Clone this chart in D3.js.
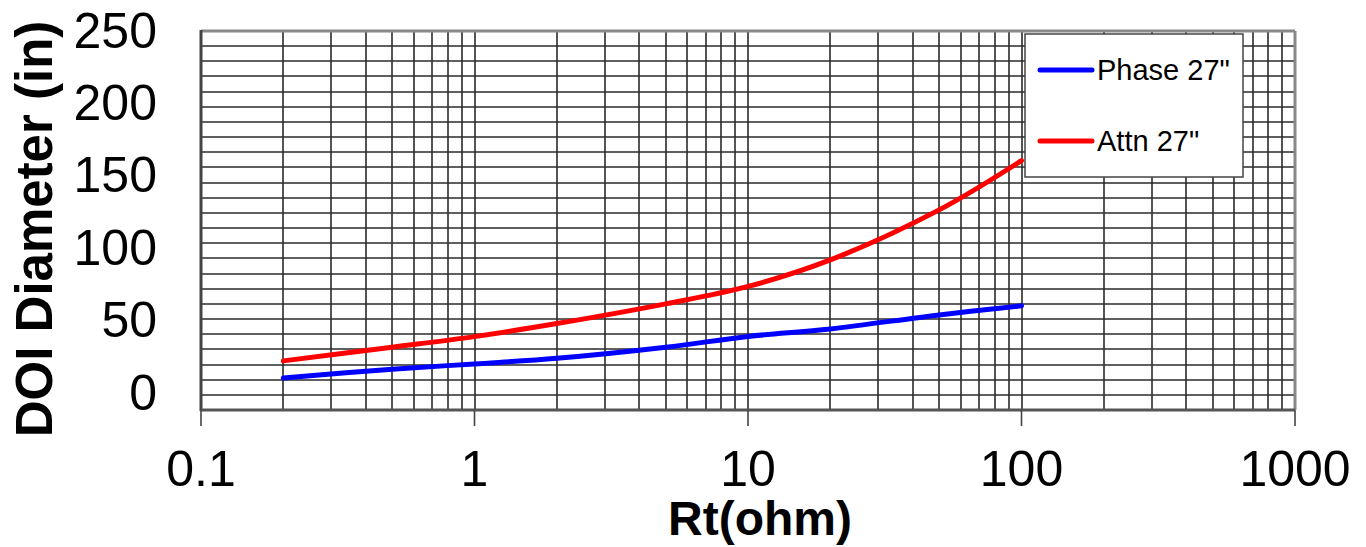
<!DOCTYPE html>
<html><head><meta charset="utf-8">
<script src="https://cdn.jsdelivr.net/npm/d3@7"></script>
<style>body{margin:0;background:#fff}svg{display:block}text{font-family:"Liberation Sans",Arial,sans-serif}</style>
</head><body>
<svg id="c" width="1366" height="547"></svg>
<script>
const rtValues = [0.2, 0.5, 1, 2, 5, 10, 20, 50, 100];
const phase27 = [21.1, 26.9, 30.4, 34.1, 41.4, 48.5, 53.5, 62.7, 68.7];
const attn27 = [32.4, 41.4, 48.4, 57, 70, 81.5, 99, 132, 164.5];
const seriesNames = ['Phase 27"', 'Attn 27"'];
const seriesColors = ["#0000ff", "#ff0000"];
const xTickLabels = [0.1, 1, 10, 100, 1000];
const yTickLabels = [0, 50, 100, 150, 200, 250];

const svg = d3.select("#c");
const L = 201, R = 1295, T = 31, B = 410;
const x = d3.scaleLog().domain([0.1, 1000]).range([L, R]);
const y = d3.scaleLinear().domain([0, 250]).range([B, T]);
const yLab = d3.scaleLinear().domain([0, 250]).range([391.5, 29.5]);

// grid
const vGrid = [];
for (let e = -1; e < 3; e++) for (let k = 1; k <= 9; k++) vGrid.push(k * Math.pow(10, e));
vGrid.push(1000);
const hGrid = d3.range(0, 251, 10);
const g = svg.append("g");
g.selectAll(".vg").data(vGrid).join("line")
  .attr("x1", d => Math.round(x(d))).attr("x2", d => Math.round(x(d)))
  .attr("y1", T).attr("y2", B).attr("stroke", "#2a2a2a").attr("stroke-width", 1.6);
g.selectAll(".hg").data(hGrid).join("line")
  .attr("x1", L).attr("x2", R)
  .attr("y1", d => Math.round(y(d))).attr("y2", d => Math.round(y(d)))
  .attr("stroke", "#2a2a2a").attr("stroke-width", 1.6);

// frame
svg.append("line").attr("x1", L).attr("x2", R).attr("y1", T).attr("y2", T).attr("stroke", "#888").attr("stroke-width", 3);
svg.append("line").attr("x1", R).attr("x2", R).attr("y1", T).attr("y2", B).attr("stroke", "#888").attr("stroke-width", 3);
svg.append("line").attr("x1", L).attr("x2", L).attr("y1", T - 1).attr("y2", B + 1).attr("stroke", "#444").attr("stroke-width", 3);
svg.append("line").attr("x1", L).attr("x2", R).attr("y1", B).attr("y2", B).attr("stroke", "#555").attr("stroke-width", 3);

// x axis ticks & labels
svg.selectAll(".xt").data(xTickLabels).join("line")
  .attr("x1", d => x(d)).attr("x2", d => x(d)).attr("y1", B).attr("y2", B + 16)
  .attr("stroke", "#444").attr("stroke-width", 1.6);
svg.selectAll(".xl").data(xTickLabels).join("text")
  .attr("x", d => x(d)).attr("y", 486).attr("text-anchor", "middle")
  .attr("font-size", 50).attr("fill", "#000").text(d => String(d));

// y labels
svg.selectAll(".yl").data(yTickLabels).join("text")
  .attr("x", 157).attr("y", d => yLab(d) + 18).attr("text-anchor", "end")
  .attr("font-size", 50).attr("fill", "#000").text(d => String(d));

// titles
svg.append("text").attr("transform", "translate(52,229) rotate(-90)")
  .attr("text-anchor", "middle").attr("font-size", 51).attr("font-weight", "bold").text("DOI Diameter (in)");
svg.append("text").attr("x", 760).attr("y", 535).attr("text-anchor", "middle")
  .attr("font-size", 48).attr("font-weight", "bold").text("Rt(ohm)");

// lines
const line = d3.line().x(d => x(d[0])).y(d => y(d[1])).curve(d3.curveCatmullRom.alpha(0.5));
[phase27, attn27].forEach((vals, i) => {
  svg.append("path").datum(rtValues.map((r, j) => [r, vals[j]]))
    .attr("d", line).attr("fill", "none").attr("stroke", seriesColors[i])
    .attr("stroke-width", 5).attr("stroke-linecap", "round").attr("stroke-linejoin", "round");
});

// legend
const lg = svg.append("g");
lg.append("rect").attr("x", 1025).attr("y", 34).attr("width", 218).attr("height", 143)
  .attr("fill", "#fff").attr("stroke", "#444").attr("stroke-width", 1.5);
const legY = [70, 141];
seriesNames.forEach((n, i) => {
  lg.append("line").attr("x1", 1040).attr("x2", 1092).attr("y1", legY[i]).attr("y2", legY[i])
    .attr("stroke", seriesColors[i]).attr("stroke-width", 5).attr("stroke-linecap", "round");
  lg.append("text").attr("x", 1097).attr("y", legY[i] + 10).attr("font-size", 29).attr("fill", "#000").text(n);
});
</script>
</body></html>
